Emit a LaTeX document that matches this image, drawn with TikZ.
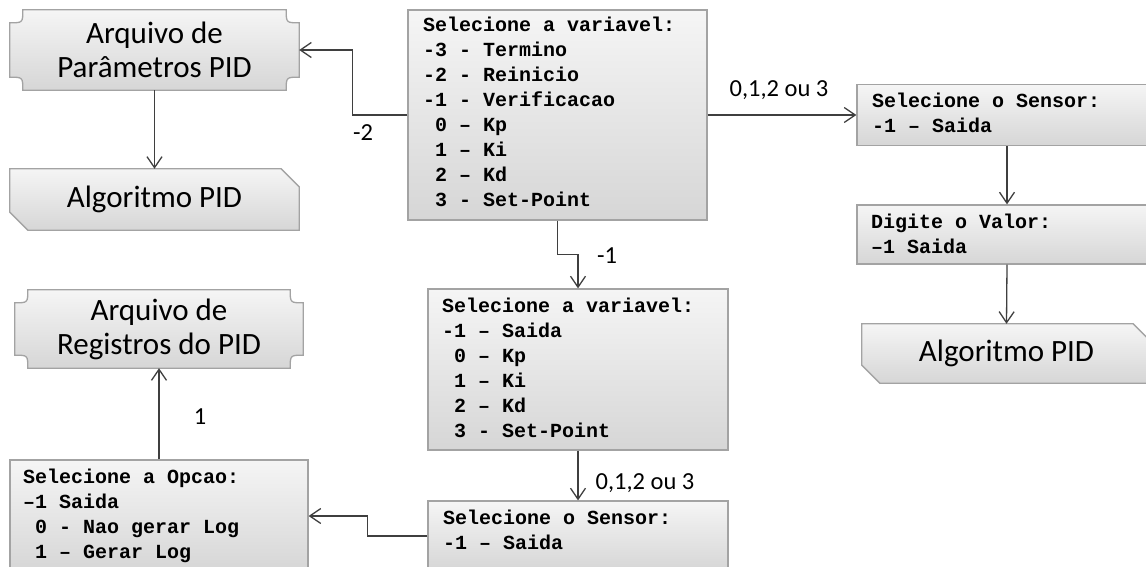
\documentclass[tikz,border=0pt]{standalone}
\usepackage{fontspec}
\setmainfont{Carlito}
\newfontfamily\codefont{Liberation Mono}
\usetikzlibrary{arrows.meta,calc,backgrounds}
\definecolor{bordc}{HTML}{A3A3A3}
\definecolor{topc}{HTML}{F5F5F5}
\definecolor{botc}{HTML}{D6D6D6}
\definecolor{arrc}{HTML}{3F3F3F}
\newcommand\cws{\spaceskip=12pt\relax\xspaceskip=12pt\relax}
\tikzset{
  box/.style={rectangle, draw=bordc, line width=1.3pt, top color=topc, bottom color=botc, inner sep=0pt},
  holder/.style={rectangle, draw=none, inner sep=0pt},
  codetxt/.style={font=\codefont\bfseries\fontsize{20}{25}\selectfont, align=left, text width=285pt, anchor=base west, inner sep=0pt},
  bigtxt/.style={font=\fontsize{31}{34}\selectfont, align=center},
  lbl/.style={font=\fontsize{24.5}{28}\selectfont, inner sep=0pt},
  arr/.style={draw=arrc, line width=1.3pt, -{Straight Barb[length=11pt,width=15pt,line width=1.3pt]}},
  shapefill/.style={draw=bordc, line width=1.3pt, top color=topc, bottom color=botc},
}
\newcommand\plaquedraw[1]{%
  \path[shapefill] let \p1=(#1.north west), \p2=(#1.south east) in
   (\x1+13pt,\y1) -- (\x2-13pt,\y1) .. controls (\x2-13pt,\y1-13pt) .. (\x2,\y1-13pt)
   -- (\x2,\y2+13pt) .. controls (\x2-13pt,\y2+13pt) .. (\x2-13pt,\y2)
   -- (\x1+13pt,\y2) .. controls (\x1+13pt,\y2+13pt) .. (\x1,\y2+13pt)
   -- (\x1,\y1-13pt) .. controls (\x1+13pt,\y1-13pt) .. (\x1+13pt,\y1) -- cycle;}
\newcommand\snipdraw[1]{%
  \path[shapefill] let \p1=(#1.north west), \p2=(#1.south east) in
   (\x1,\y1) -- (\x2-18pt,\y1) -- (\x2,\y1-18pt) -- (\x2,\y2) -- (\x1+18pt,\y2) -- (\x1,\y2+18pt) -- cycle;}
\begin{document}
\begin{tikzpicture}[x=1pt,y=-1pt]
\useasboundingbox (0,0) rectangle (1146,567);
\clip (0,0) rectangle (1146,567);

% calibri shapes
\node[holder, bigtxt, minimum width=289pt, minimum height=80pt] (param) at (154.5,50) {Arquivo de\\Parâmetros PID};
\node[holder, bigtxt, minimum width=289pt, minimum height=61pt] (algo1) at (154.5,199.5) {Algoritmo PID};
\node[holder, bigtxt, minimum width=288pt, minimum height=78pt] (regs) at (159,329) {Arquivo de\\Registros do PID};
\node[holder, bigtxt, minimum width=289pt, minimum height=59pt] (algo2) at (1006.5,353.5) {Algoritmo PID};

% code boxes
\node[box, minimum width=299pt, minimum height=210pt] (main) at (557.5,115) {};
\node[box, minimum width=300pt, minimum height=61pt] (sensR) at (1007,115) {};
\node[box, minimum width=300pt, minimum height=59pt] (digite) at (1007,234.5) {};
\node[box, minimum width=300pt, minimum height=161pt] (var2) at (578,369.5) {};
\node[box, minimum width=300pt, minimum height=70pt] (sensB) at (578,536) {};
\node[box, minimum width=298pt, minimum height=112pt] (opcao) at (159,516) {};

\node[codetxt] (mainT) at (423,32) {\cws Selecione a variavel:\\
-3 - Termino\\
-2 - Reinicio\\
-1 - Verificacao\\
\hphantom{0}0 – Kp\\
\hphantom{0}1 – Ki\\
\hphantom{0}2 – Kd\\
\hphantom{0}3 - Set-Point};
\node[codetxt] (sensRT) at (872,108) {\cws Selecione o Sensor:\\-1 – Saida};
\node[codetxt] (digiteT) at (871,228) {\cws Digite o Valor:\\–1 Saida};
\node[codetxt] (var2T) at (442,312) {\cws Selecione a variavel:\\
-1 – Saida\\
\hphantom{0}0 – Kp\\
\hphantom{0}1 – Ki\\
\hphantom{0}2 – Kd\\
\hphantom{0}3 - Set-Point};
\node[codetxt] (sensBT) at (443,524) {\cws Selecione o Sensor:\\-1 – Saida};
\node[codetxt] (opcaoT) at (23,483) {\cws Selecione a Opcao:\\
–1 Saida\\
\hphantom{0}0 - Nao gerar Log\\
\hphantom{0}1 – Gerar Log};

\begin{scope}[on background layer]
\plaquedraw{param}
\plaquedraw{regs}
\snipdraw{algo1}
\snipdraw{algo2}
\end{scope}

% connectors
\draw[arr] (main.west) -- ++(-55,0) |- (param.east);
\draw[arr] (param.south) -- (algo1.north);
\draw[arr] (main.east) -- (sensR.west);
\draw[arr] (sensR.south) -- (digite.north);
\draw[arr] (digite.south) -- (algo2.north);
\draw[arr] (main.south) -- ++(0,34) -| (var2.north);
\draw[arr] (var2.south) -- (sensB.north);
\draw[arr] (sensB.west) -- ++(-60,0) |- (opcao.east);
\draw[arr] (opcao.north) -- (regs.south);

% labels
\node[lbl] (lm2) at (363,133) {-2};
\node[lbl] (lm1) at (607,256) {-1};
\node[lbl] (lsens) at (779,90) {0,1,2 ou 3};
\node[lbl] (lsensb) at (645,483) {0,1,2 ou 3};
\node[lbl] (lone) at (200,417) {1};
\end{tikzpicture}
\end{document}
